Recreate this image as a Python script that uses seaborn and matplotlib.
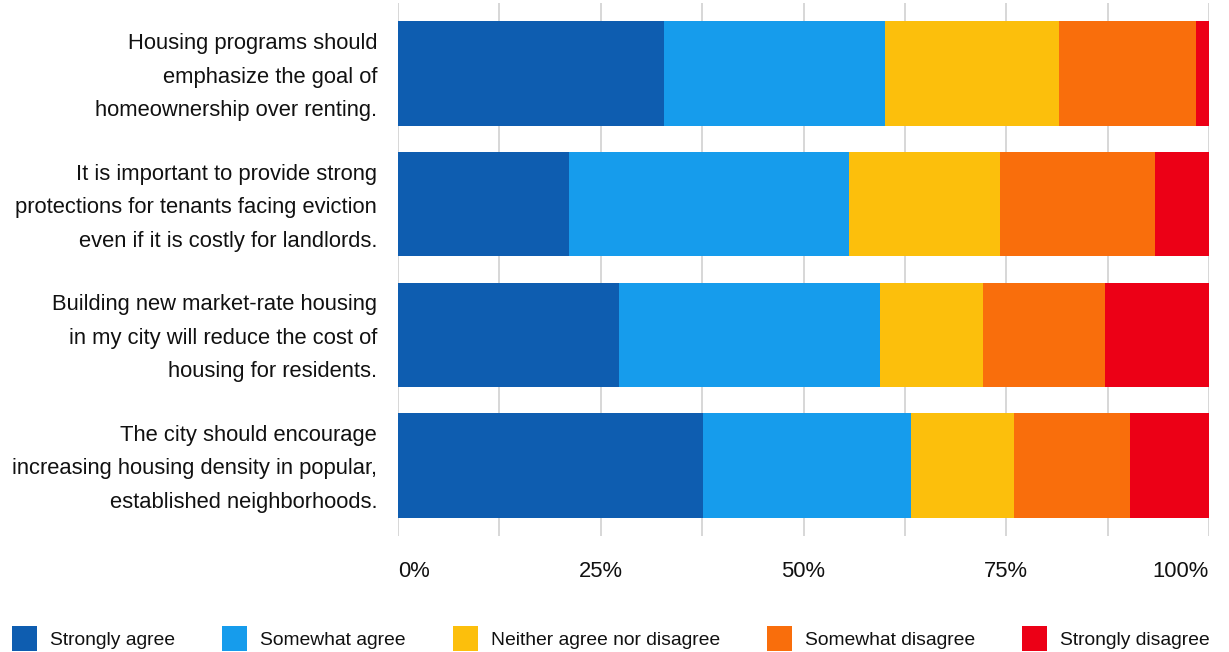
import numpy as np
import pandas as pd
import matplotlib
matplotlib.use("Agg")
import matplotlib.pyplot as plt
import matplotlib.transforms as mtransforms
from matplotlib.patches import Patch
import seaborn as sns

# ---- data ----
questions = [
    "Housing programs should\nemphasize the goal of\nhomeownership over renting.",
    "It is important to provide strong\nprotections for tenants facing eviction\neven if it is costly for landlords.",
    "Building new market-rate housing\nin my city will reduce the cost of\nhousing for residents.",
    "The city should encourage\nincreasing housing density in popular,\nestablished neighborhoods.",
]
responses = ["Strongly agree", "Somewhat agree", "Neither agree nor disagree",
             "Somewhat disagree", "Strongly disagree"]
strongly_agree = [32.8, 21.1, 27.3, 37.6]
somewhat_agree = [27.2, 34.5, 32.1, 25.6]
neither = [21.5, 18.6, 12.7, 12.7]
somewhat_disagree = [16.9, 19.2, 15.1, 14.4]
strongly_disagree = [1.6, 6.6, 12.8, 9.7]
tick_values = [0, 25, 50, 75, 100]
tick_labels = ["0%", "25%", "50%", "75%", "100%"]
colors = ["#0e5db0", "#169cec", "#fcbf0c", "#f96e0c", "#ec0016"]

series = [strongly_agree, somewhat_agree, neither, somewhat_disagree, strongly_disagree]

sns.set_theme(style="white")
plt.rcParams["font.family"] = ["Liberation Sans", "DejaVu Sans"]

fig = plt.figure(figsize=(12.29, 6.52), dpi=100)
ax = fig.add_axes([398 / 1229, 1 - 536 / 652, (1209 - 398) / 1229, (536 - 3) / 652])

cum = np.cumsum(np.array(series), axis=0)
# draw from the total downwards so each segment sits on top of the previous
for i in range(len(responses) - 1, -1, -1):
    df = pd.DataFrame({"question": questions, "value": cum[i]})
    sns.barplot(data=df, x="value", y="question", orient="h", color=colors[i],
                saturation=1, width=0.8, ax=ax, zorder=3, linewidth=0,
                order=questions)

ax.set_xlim(0, 100)
ax.set_ylim(3.54, -0.54)
ax.set_xlabel("")
ax.set_ylabel("")
for s in ax.spines.values():
    s.set_visible(False)

ax.set_xticks(tick_values)
ax.set_xticklabels(tick_labels)
ax.set_xticks([12.5, 37.5, 62.5, 87.5], minor=True)
ax.grid(False)
ax.xaxis.grid(True, which="both", color="#d4d4d4", linewidth=1.3, zorder=0)
ax.set_axisbelow(True)
ax.tick_params(axis="x", which="both", length=0, pad=18, labelsize=15.8, labelcolor="#111111")
ax.tick_params(axis="y", length=0, pad=15, labelsize=15.8, labelcolor="#111111")
shift = mtransforms.ScaledTranslation(0, -3.5 / 100, fig.dpi_scale_trans)
for t in ax.get_yticklabels():
    t.set_linespacing(1.79)
    t.set_va("center")
    t.set_transform(t.get_transform() + shift)

xl = ax.get_xticklabels()
xl[0].set_ha("left")
xl[-1].set_ha("right")

fs = 13.9
handles = [Patch(facecolor=c, edgecolor="none") for c in colors]
fig.legend(handles, responses, loc="lower left", bbox_to_anchor=(12 / 1229, 1 / 652),
           ncol=5, frameon=False, fontsize=fs, handlelength=1.3, handleheight=1.62,
           handletextpad=0.66, columnspacing=2.45, borderpad=0, borderaxespad=0,
           labelcolor="#111111")

fig.savefig("out.png", dpi=100)
